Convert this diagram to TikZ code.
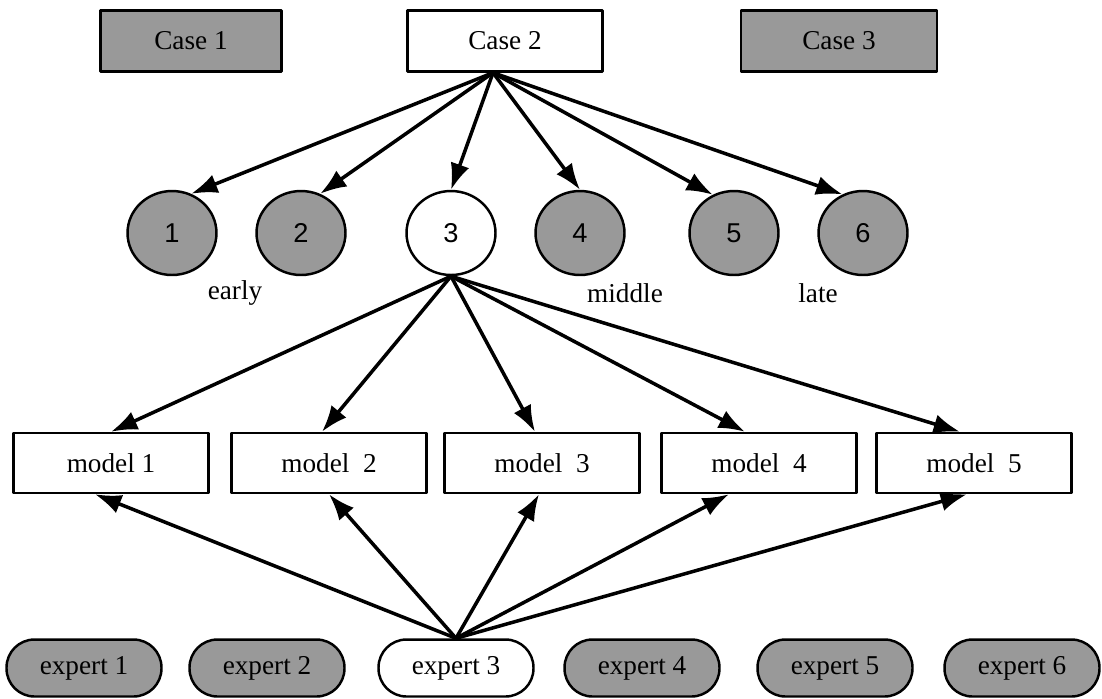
\documentclass[tikz,border=0pt]{standalone}
\usepackage{fontspec}
\setmainfont{Liberation Serif}
\newfontfamily\numfont{Liberation Sans}
\usetikzlibrary{arrows.meta,shapes.geometric,calc}
\begin{document}
\begin{tikzpicture}[x=0.02cm,y=-0.02cm,line join=round,
  >={Latex[length=15pt,width=11pt]},
  font=\fontsize{15.5}{18}\selectfont,
  shade/.style={fill=black!40},
  casebox/.style={draw,line width=1.4pt,minimum height=1.22cm,inner sep=0pt},
  stage/.style={ellipse,draw,line width=1.4pt,minimum width=1.78cm,minimum height=1.68cm,inner sep=0pt,font=\numfont\fontsize{15.5}{18}\selectfont},
  modelbox/.style={draw,line width=1.4pt,minimum width=3.9cm,minimum height=1.2cm,inner sep=0pt},
  expertbox/.style={draw,line width=1.4pt,rounded corners=0.56cm,minimum width=3.1cm,minimum height=1.14cm,inner sep=0pt},
  arr/.style={->,line width=2pt}]
\useasboundingbox (0,0) rectangle (1102,698);
% cases
\node[casebox,shade,minimum width=3.62cm] (cs1) at (191,41) {Case 1};
\node[casebox,minimum width=3.9cm] (cs2) at (505,41) {Case 2};
\node[casebox,shade,minimum width=3.92cm] (cs3) at (839,41) {Case 3};
% stages
\foreach \i/\x in {1/172,2/301,4/580,5/734,6/863}
  \node[stage,shade] (c\i) at (\x,233) {\i};
\node[stage] (c3) at (451,233) {3};
\node (early) at (235,293) {early};
\node (middle) at (625,293) {middle};
\node (late) at (818,293) {late};
% models
\foreach \i/\x in {1/111,2/329,3/542,4/759,5/974}
  \node[modelbox] (m\i) at (\x,463) {model\ifnum\i>1\ \fi\ \i};
% experts
\foreach \i/\x in {1/84,2/267,4/642,5/835,6/1022}
  \node[expertbox,shade] (e\i) at (\x,668) {expert \i};
\node[expertbox] (e3) at (456,668) {expert 3};
% arrows
\foreach \i/\a in {1/64,2/64,3/90,4/90,5/119,6/118}
  \draw[arr] ($(cs2.south)+(-12,0)$) -- (c\i.\a);
\foreach \i/\dx in {1/0,2/-7,3/-7,4/-14,5/-14}
  \draw[arr] (c3.south) -- ($(m\i.north)+(\dx,0)$);
\foreach \i/\dx in {1/-16,2/0,3/-3,4/-30,5/-7}
  \draw[arr] (e3.north) -- ($(m\i.south)+(\dx,0)$);
\end{tikzpicture}
\end{document}
